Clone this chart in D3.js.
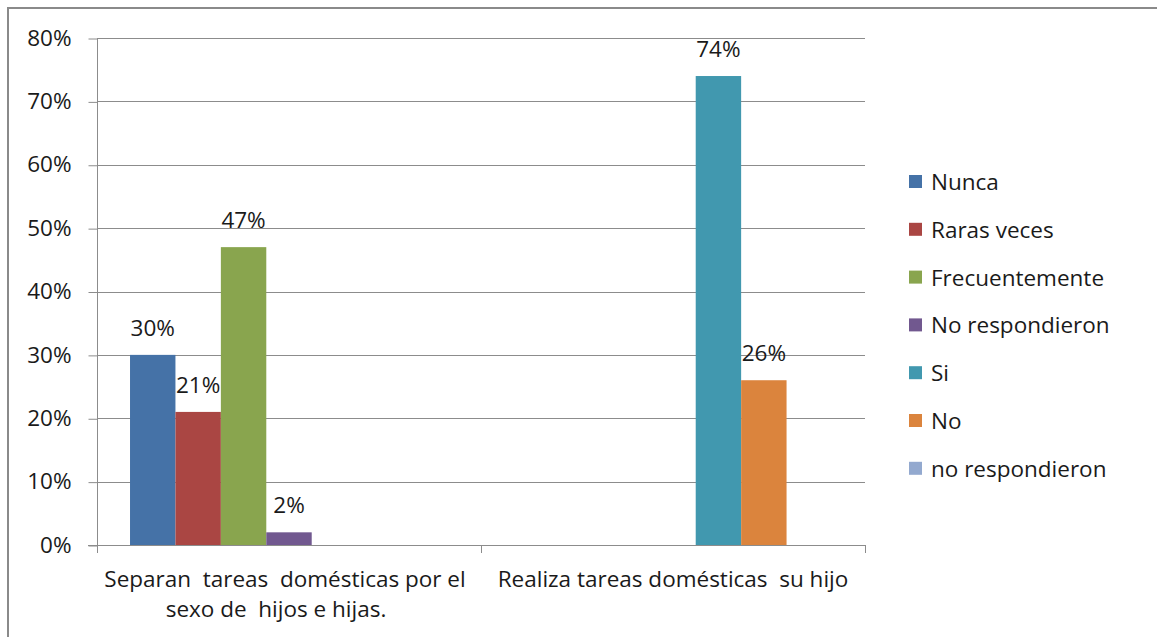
<!DOCTYPE html>
<html>
<head>
<meta charset="utf-8">
<script src="https://cdn.jsdelivr.net/npm/d3@7"></script>
<style>
  body { margin: 0; background: #fff; }
  text { font-family: "Open Sans", Lato, sans-serif; fill: #1a1a1a; }
</style>
</head>
<body>
<svg id="chart" width="1157" height="637"></svg>
<script>
// categories (x axis), two lines for the first one
var categories = ['c1', 'c2'];
var categoryLines = [
  ['Separan  tareas  domésticas por el', 'sexo de  hijos e hijas.'],
  ['Realiza tareas domésticas  su hijo']
];
var seriesNames = ['Nunca', 'Raras veces', 'Frecuentemente', 'No respondieron', 'Si', 'No', 'no respondieron'];
var seriesColors = ['#4572A7', '#AA4643', '#89A54E', '#71588F', '#4198AF', '#DB843D', '#93A9CF'];
// values in percent, null = empty cell
var nunca = [30, null];
var rarasVeces = [21, null];
var frecuentemente = [47, null];
var noRespondieron = [2, null];
var si = [null, 74];
var no = [null, 26];
var noRespondieron2 = [null, null];
var yTicks = [0, 10, 20, 30, 40, 50, 60, 70, 80];

var series = [nunca, rarasVeces, frecuentemente, noRespondieron, si, no, noRespondieron2];

var svg = d3.select('#chart');
var fs = '22.5px';

// outer frame (cut off on the right and bottom like the original)
svg.append('rect').attr('x', 8).attr('y', 8).attr('width', 1160).attr('height', 640)
  .attr('fill', 'none').attr('stroke', '#8a8a8a').attr('stroke-width', 2);

var plotLeft = 97, plotRight = 865, plotTop = 38, plotBottom = 545;

var y = d3.scaleLinear().domain([0, 80]).range([plotBottom, plotTop]);
var x = d3.scaleBand().domain(categories).range([plotLeft, plotRight]).paddingInner(0).paddingOuter(0);
// 7 slots per category, outer gap ~ 33px each side
var inner = d3.scaleBand().domain(d3.range(seriesNames.length))
  .range([0, x.bandwidth()]).paddingOuter(0.727).paddingInner(0);

// gridlines
svg.append('g').selectAll('line').data(yTicks.slice(1)).join('line')
  .attr('x1', plotLeft).attr('x2', plotRight)
  .attr('y1', function(d) { return Math.round(y(d)) + 0.5; })
  .attr('y2', function(d) { return Math.round(y(d)) + 0.5; })
  .attr('stroke', '#8c8c8c').attr('stroke-width', 1);

// y axis
var yAxis = svg.append('g').attr('transform', 'translate(' + (plotLeft + 0.5) + ',0)')
  .call(d3.axisLeft(y).tickValues(yTicks).tickSize(9).tickPadding(17)
    .tickFormat(function(d) { return d + '%'; }));
yAxis.select('.domain').attr('d', 'M0,' + plotTop + 'V' + (plotBottom + 3)).attr('stroke', '#8c8c8c');
yAxis.selectAll('.tick line').attr('stroke', '#8c8c8c').attr('transform', 'translate(0,0.5)');
yAxis.selectAll('text').style('font-size', fs).style('font-family', '"Open Sans", sans-serif').attr('fill', '#1a1a1a');

// x axis line and ticks
var xg = svg.append('g');
xg.append('line').attr('x1', plotLeft - 9).attr('x2', plotRight)
  .attr('y1', plotBottom + 0.5).attr('y2', plotBottom + 0.5).attr('stroke', '#8c8c8c');
xg.selectAll('.xt').data([plotLeft, x('c2'), plotRight]).join('line').attr('class', 'xt')
  .attr('x1', function(d) { return Math.round(d) + 0.5; })
  .attr('x2', function(d) { return Math.round(d) + 0.5; })
  .attr('y1', plotBottom).attr('y2', plotBottom + 8).attr('stroke', '#8c8c8c');

// category labels (each wrapped line centred on its own)
var lineCentres = [[285, 276], [673]];
categories.forEach(function(c, i) {
  var t = xg.append('text').attr('text-anchor', 'middle').style('font-size', fs)
    .style('white-space', 'pre');
  categoryLines[i].forEach(function(line, j) {
    t.append('tspan').attr('x', lineCentres[i][j]).attr('y', 587 + j * 30).text(line);
  });
});

// bars
var cells = [];
series.forEach(function(vals, s) {
  vals.forEach(function(v, ci) {
    if (v !== null) cells.push({ s: s, c: categories[ci], v: v });
  });
});

svg.append('g').selectAll('rect').data(cells).join('rect')
  .attr('x', function(d) { return x(d.c) + inner(d.s); })
  .attr('width', inner.bandwidth())
  .attr('y', function(d) { return y(d.v); })
  .attr('height', function(d) { return plotBottom - y(d.v); })
  .attr('fill', function(d) { return seriesColors[d.s]; });

// data labels
svg.append('g').selectAll('text').data(cells).join('text')
  .attr('x', function(d) { return x(d.c) + inner(d.s) + inner.bandwidth() / 2; })
  .attr('y', function(d) { return y(d.v) - 19; })
  .attr('text-anchor', 'middle').style('font-size', fs)
  .text(function(d) { return d.v + '%'; });

// legend
var legend = svg.append('g').attr('transform', 'translate(909,175)');
var item = legend.selectAll('g').data(seriesNames).join('g')
  .attr('transform', function(d, i) { return 'translate(0,' + (i * 47.8) + ')'; });
item.append('rect').attr('width', 13).attr('height', 13).attr('fill', function(d, i) { return seriesColors[i]; });
item.append('text').attr('x', 22).attr('y', 15).style('font-size', fs).text(function(d) { return d; });
</script>
</body>
</html>
